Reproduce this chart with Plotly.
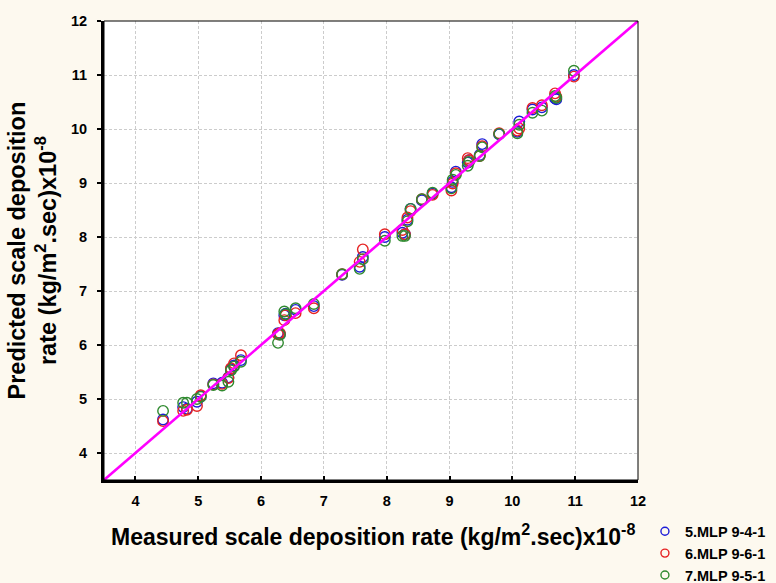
import plotly.graph_objects as go

# Measured values (common to all models)
measured = [4.44, 4.76, 4.82, 4.98, 5.04, 5.24, 5.38, 5.48, 5.52, 5.57, 5.68,
            6.27, 6.30, 6.37, 6.39, 6.55, 6.84, 7.29, 7.57, 7.62, 7.97, 8.25,
            8.29, 8.33, 8.38, 8.56, 8.73, 9.03, 9.05, 9.10, 9.29, 9.31, 9.48,
            9.52, 9.79, 10.08, 10.11, 10.32, 10.47, 10.68, 10.70, 10.98]

pred_mlp_941 = [4.62, 4.85, 4.82, 4.95, 5.05, 5.29, 5.30, 5.40, 5.55, 5.62, 5.72,
                6.22, 6.20, 6.55, 6.58, 6.65, 6.72, 7.30, 7.45, 7.63, 8.00, 8.08,
                8.05, 8.32, 8.52, 8.68, 8.80, 8.92, 9.02, 9.21, 9.38, 9.42, 9.52,
                9.72, 9.90, 9.95, 10.14, 10.36, 10.40, 10.57, 10.55, 11.00]

pred_mlp_961 = [4.59, 4.78, 4.80, 4.87, 5.07, 5.27, 5.28, 5.39, 5.57, 5.66, 5.81,
                6.20, 6.22, 6.46, 6.55, 6.59, 6.68, 7.31, 7.54, 7.77, 8.05, 8.13,
                8.05, 8.36, 8.48, 8.70, 8.78, 8.86, 8.99, 9.18, 9.46, 9.42, 9.50,
                9.68, 9.92, 9.97, 10.01, 10.39, 10.44, 10.66, 10.60, 10.97]

pred_mlp_951 = [4.78, 4.93, 4.93, 5.00, 5.04, 5.26, 5.25, 5.32, 5.53, 5.60, 5.69,
                6.04, 6.19, 6.62, 6.57, 6.68, 6.76, 7.31, 7.41, 7.59, 7.93, 8.02,
                8.02, 8.29, 8.52, 8.70, 8.82, 8.90, 9.06, 9.15, 9.32, 9.39, 9.50,
                9.66, 9.91, 9.92, 10.08, 10.30, 10.34, 10.61, 10.58, 11.08]

series_names = ["5.MLP 9-4-1", "6.MLP 9-6-1", "7.MLP 9-5-1"]
series_values = [pred_mlp_941, pred_mlp_961, pred_mlp_951]
series_colors = ["#1c1cd8", "#e62222", "#2f8a2f"]

axis_range = [3.5, 12]
tick_vals = [4, 5, 6, 7, 8, 9, 10, 11, 12]
tick_text = ["4", "5", "6", "7", "8", "9", "10", "11", "12"]

FONT = "Arial, Liberation Sans"

fig = go.Figure()

for name, vals, col in zip(series_names, series_values, series_colors):
    fig.add_trace(go.Scatter(
        x=measured, y=vals, mode="markers", name=name, showlegend=False,
        marker=dict(symbol="circle-open", size=10.5, color=col, line=dict(width=1.4, color=col)),
    ))

# Perfect-fit line
fig.add_trace(go.Scatter(x=axis_range, y=axis_range, mode="lines", showlegend=False,
                         line=dict(color="#ff00ff", width=2.6)))

# Legend entries (smaller markers)
for name, col in zip(series_names, series_colors):
    fig.add_trace(go.Scatter(
        x=[None], y=[None], mode="markers", name=name, showlegend=True,
        marker=dict(symbol="circle-open", size=8, color=col, line=dict(width=1.4, color=col)),
    ))

axis_common = dict(
    range=axis_range, tickvals=tick_vals, ticktext=tick_text,
    showgrid=True, gridcolor="#cccccc", griddash="3px,2px", gridwidth=1,
    showline=True, linecolor="black", linewidth=3, mirror=False,
    zeroline=False, tickcolor="black", ticklen=4, tickwidth=2,
    tickfont=dict(family=FONT, size=14.5, color="black", weight="bold"),
)

fig.update_layout(
    width=776, height=583,
    margin=dict(l=104, r=138, t=21, b=103, autoexpand=False),
    paper_bgcolor="#fdf9ef", plot_bgcolor="white",
    xaxis=dict(**axis_common, ticks="inside", ticklabelstandoff=6),
    yaxis=dict(**axis_common, ticks="outside", ticklabelstandoff=7),
    showlegend=True,
    legend=dict(x=1.013, y=-0.077, xanchor="left", yanchor="top",
                bgcolor="rgba(0,0,0,0)",
                font=dict(family=FONT, size=14.5, color="black", weight="bold"),
                tracegroupgap=0, itemwidth=30),
    font=dict(family=FONT),
)

# Thin box around plot
fig.add_shape(type="rect", xref="paper", yref="paper", x0=0, y0=0, x1=1, y1=1,
              line=dict(color="black", width=1), layer="above")

fig.add_annotation(
    text="<b>Measured scale deposition rate (kg/m<sup>2</sup>.sec)x10<sup>-8</sup></b>",
    xref="paper", yref="paper", x=0.503, y=-0.12, xanchor="center", yanchor="middle",
    showarrow=False, font=dict(size=23, color="black", family=FONT))

fig.add_annotation(
    text="<b>Predicted scale deposition<br>rate (kg/m<sup>2</sup>.sec)x10<sup>-8</sup></b>",
    xref="paper", yref="paper", x=-0.133, y=0.5, xanchor="center", yanchor="middle",
    textangle=-90, showarrow=False,
    font=dict(size=23.5, color="black", family=FONT))

fig.write_html("out.html")
